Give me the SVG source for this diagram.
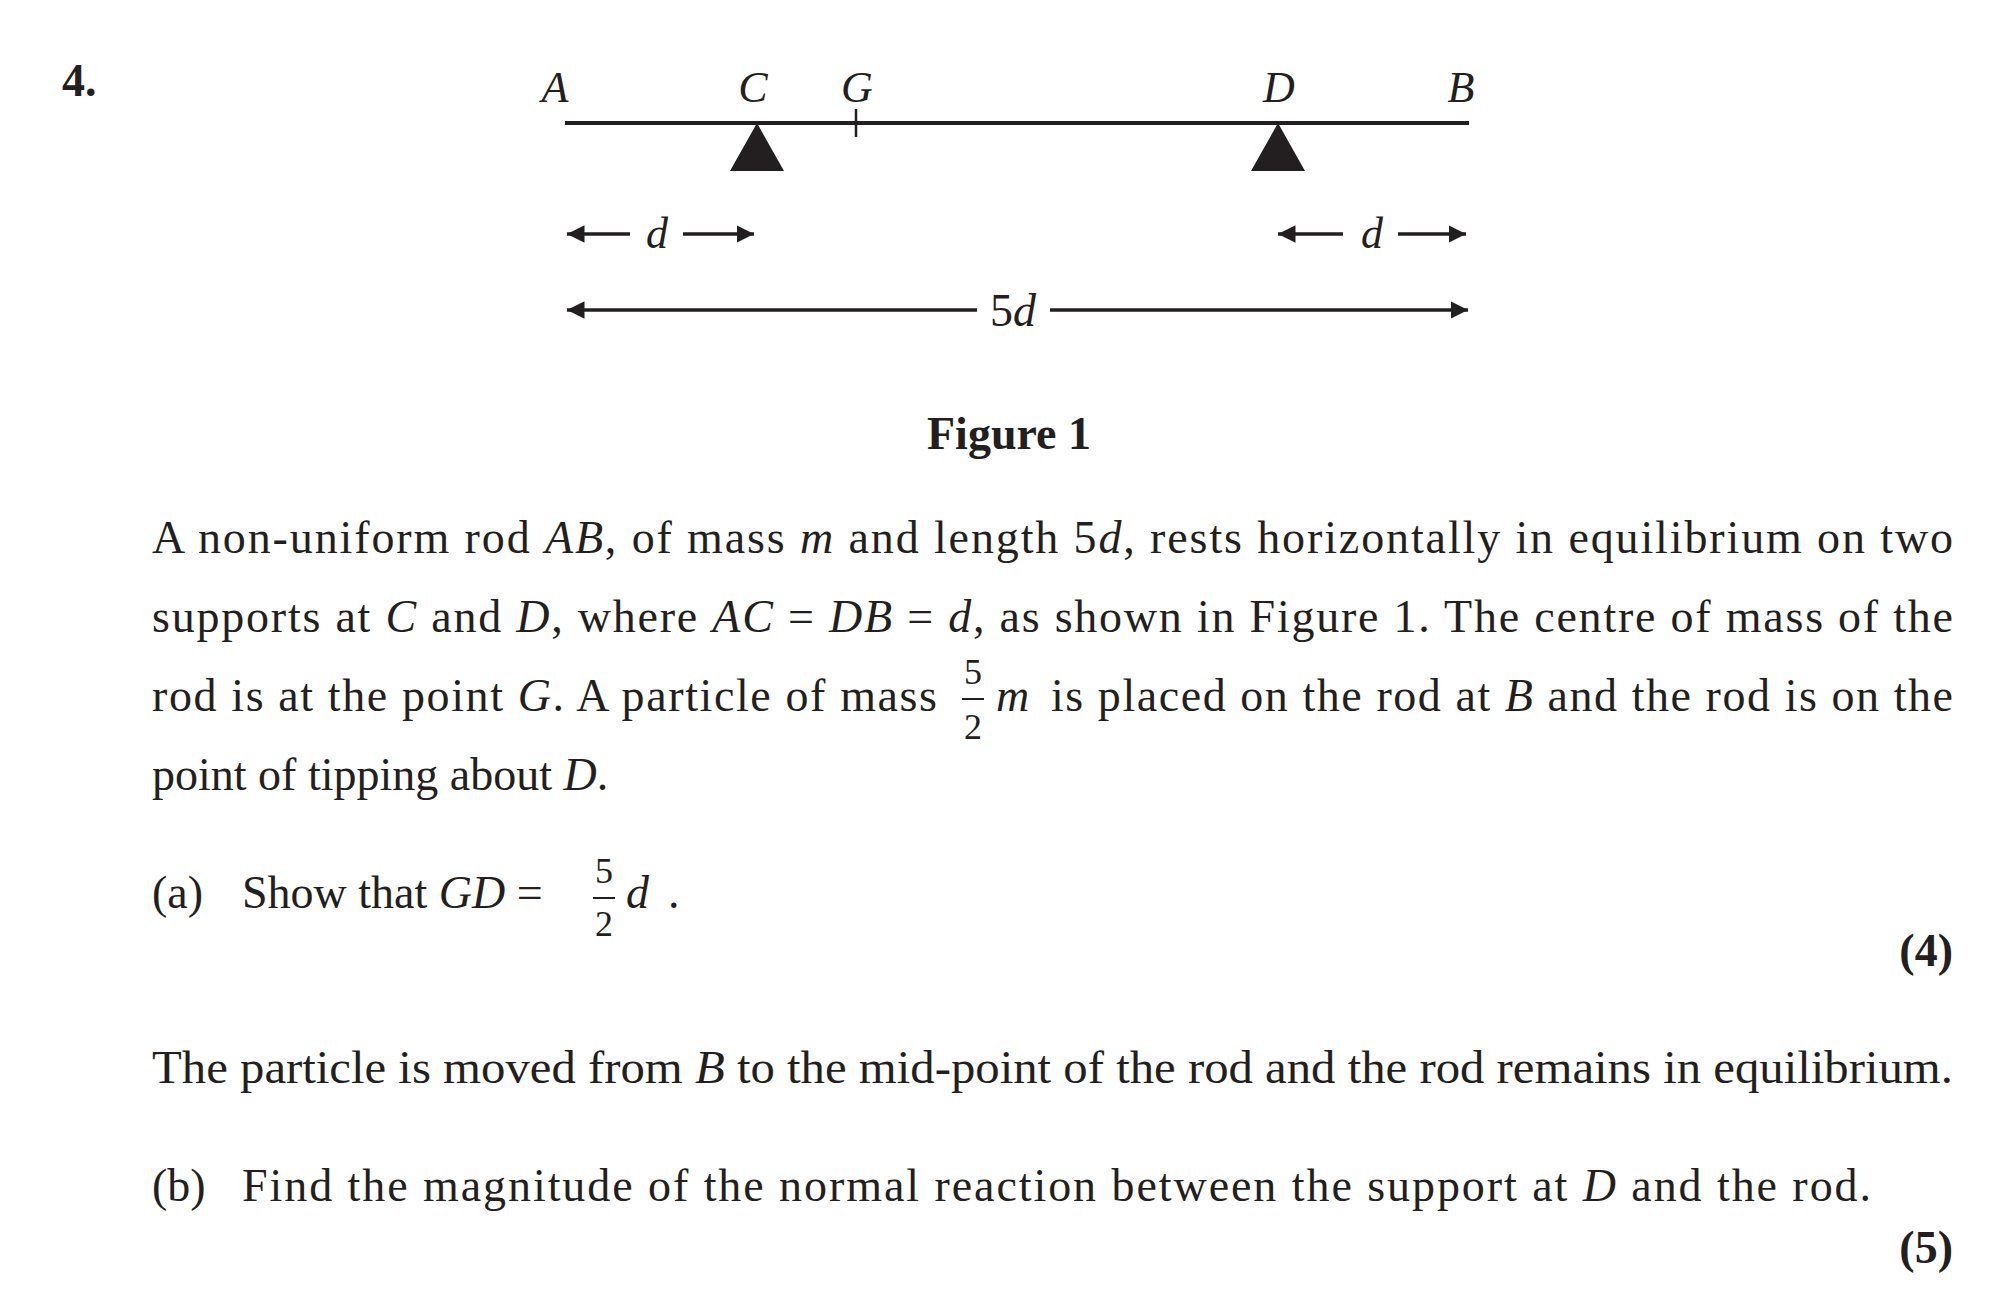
<svg xmlns="http://www.w3.org/2000/svg" width="2005" height="1296" viewBox="0 0 2005 1296">
<style>
text{font-family:"Liberation Serif","Times New Roman",serif;fill:#231f20}
.t{font-size:46px}
.i{font-style:italic}
.b{font-weight:bold}
.lbl{font-size:44px;font-style:italic}
.fr{font-size:36px}
</style>
<defs>
<marker id="ah" viewBox="0 0 10 10" refX="10" refY="5" markerWidth="5" markerHeight="5" orient="auto-start-reverse" markerUnits="strokeWidth"><path d="M0,0L10,5L0,10z" fill="#231f20"/></marker>
</defs>
<rect width="2005" height="1296" fill="#fff"/>
<text class="t b" x="62" y="96">4.</text>
<g id="rod">
<line x1="565" y1="123" x2="1469" y2="123" stroke="#231f20" stroke-width="4"/>
<line x1="856" y1="109" x2="856" y2="137" stroke="#231f20" stroke-width="2.5"/>
</g>
<g id="supportC"><path d="M757,123L730,171L784,171z" fill="#231f20"/></g>
<g id="supportD"><path d="M1278,123L1251,171L1305,171z" fill="#231f20"/></g>
<g id="labels">
<text class="lbl" x="555" y="102" text-anchor="middle">A</text>
<text class="lbl" x="753" y="102" text-anchor="middle">C</text>
<text class="lbl" x="857" y="102" text-anchor="middle">G</text>
<text class="lbl" x="1279" y="102" text-anchor="middle">D</text>
<text class="lbl" x="1461" y="102" text-anchor="middle">B</text>
</g>
<g id="connectors" stroke="#231f20" stroke-width="3.5">
<line x1="630" y1="234" x2="567" y2="234" marker-end="url(#ah)"/>
<line x1="683" y1="234" x2="754" y2="234" marker-end="url(#ah)"/>
<line x1="1343" y1="234" x2="1278" y2="234" marker-end="url(#ah)"/>
<line x1="1398" y1="234" x2="1466" y2="234" marker-end="url(#ah)"/>
<line x1="977" y1="310" x2="567" y2="310" marker-end="url(#ah)"/>
<line x1="1050" y1="310" x2="1468" y2="310" marker-end="url(#ah)"/>
</g>
<text class="lbl" x="657" y="248" text-anchor="middle">d</text>
<text class="lbl" x="1372" y="248" text-anchor="middle">d</text>
<text class="t" x="1013" y="326" text-anchor="middle">5<tspan class="i">d</tspan></text>
<text class="t b" x="1009" y="449" text-anchor="middle">Figure 1</text>

<text class="t" x="152" y="553" textLength="1801" lengthAdjust="spacing">A non-uniform rod <tspan class="i">AB</tspan>, of mass <tspan class="i">m</tspan> and length 5<tspan class="i">d</tspan>, rests horizontally in equilibrium on two</text>
<text class="t" x="152" y="632" textLength="1801" lengthAdjust="spacing">supports at <tspan class="i">C</tspan> and <tspan class="i">D</tspan>, where <tspan class="i">AC</tspan> = <tspan class="i">DB</tspan> = <tspan class="i">d</tspan>, as shown in Figure 1. The centre of mass of  the</text>
<text class="t" x="152" y="711" textLength="785" lengthAdjust="spacing">rod is at the point <tspan class="i">G</tspan>. A particle of mass</text>
<text class="fr" x="973" y="684" text-anchor="middle">5</text>
<line x1="962" y1="699" x2="984" y2="699" stroke="#231f20" stroke-width="2"/>
<text class="fr" x="973" y="739" text-anchor="middle">2</text>
<text class="t i" x="996" y="711">m</text>
<text class="t" x="1051" y="711" textLength="902" lengthAdjust="spacing">is placed on the rod at <tspan class="i">B</tspan> and the rod is on the</text>
<text class="t" x="152" y="790">point of tipping about <tspan class="i">D</tspan>.</text>

<text class="t" x="152" y="908">(a)</text>
<text class="t" x="242" y="908">Show that <tspan class="i">GD</tspan> =</text>
<text class="fr" x="604" y="883" text-anchor="middle">5</text>
<line x1="593" y1="898" x2="615" y2="898" stroke="#231f20" stroke-width="2"/>
<text class="fr" x="604" y="936" text-anchor="middle">2</text>
<text class="t i" x="626" y="908">d</text>
<text class="t" x="668" y="908">.</text>
<text class="t b" x="1953" y="966" text-anchor="end">(4)</text>

<text class="t" x="152" y="1083" textLength="1801" lengthAdjust="spacingAndGlyphs">The particle is moved from <tspan class="i">B</tspan> to the mid-point of the rod and the rod remains in equilibrium.</text>
<text class="t" x="152" y="1201">(b)</text>
<text class="t" x="242" y="1201" textLength="1629" lengthAdjust="spacing">Find the magnitude of the normal reaction between the support at <tspan class="i">D</tspan> and the rod.</text>
<text class="t b" x="1953" y="1263" text-anchor="end">(5)</text>
</svg>
